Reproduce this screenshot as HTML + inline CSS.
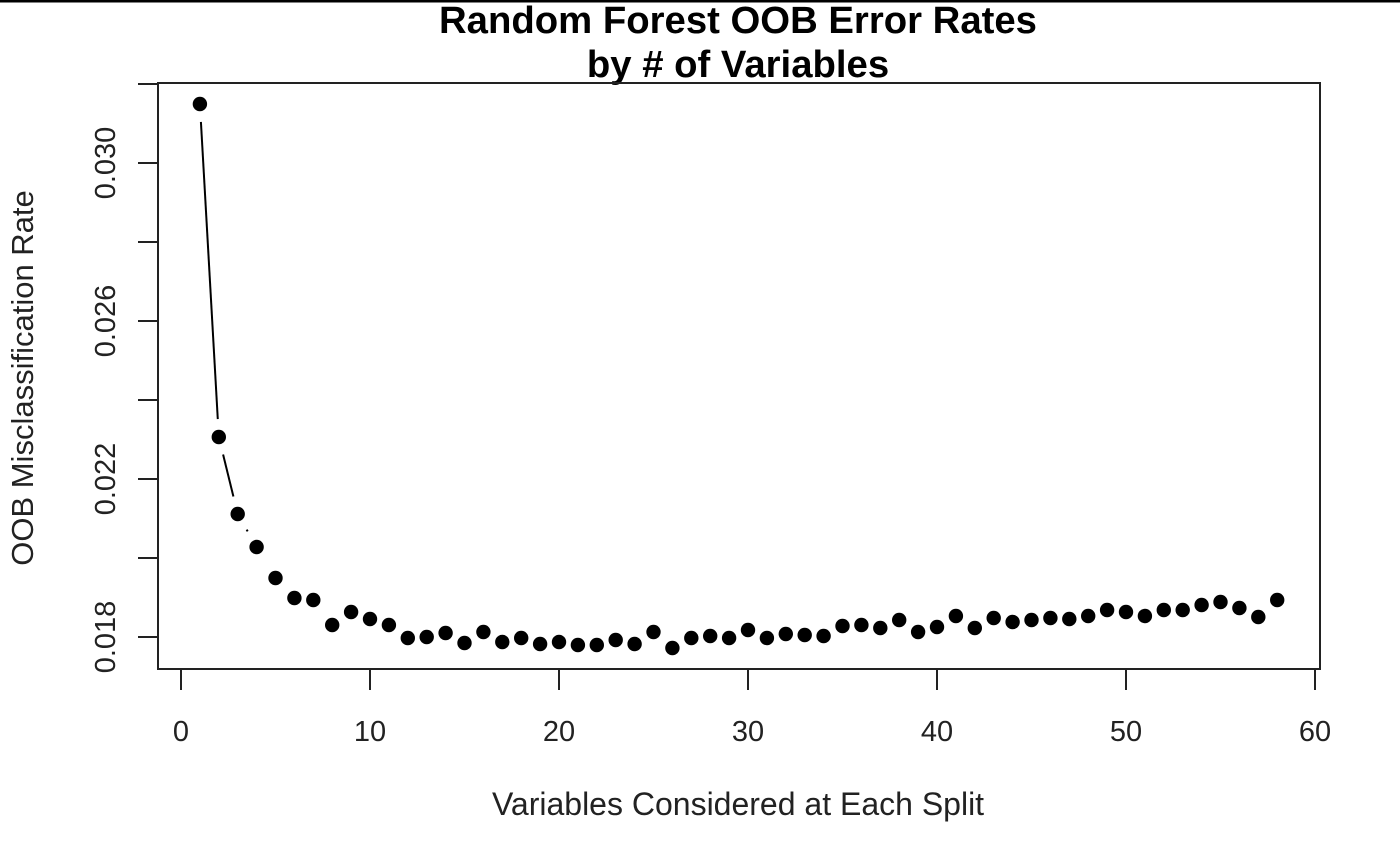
<!DOCTYPE html>
<html><head><meta charset="utf-8"><style>html,body{margin:0;padding:0;background:#fff}svg{display:block}</style></head>
<body>
<svg id="s" width="1400" height="866" xmlns="http://www.w3.org/2000/svg" font-family="Liberation Sans, Arial, sans-serif">
<rect width="1400" height="866" fill="#fff"/>
<line x1="0" y1="1" x2="1400" y2="1" stroke="#000" stroke-width="3"/>
<text x="738" y="33" font-size="38.3" font-weight="bold" text-anchor="middle">Random Forest OOB Error Rates</text>
<text x="738" y="77" font-size="38.3" font-weight="bold" text-anchor="middle">by # of Variables</text>
<rect x="158" y="83" width="1162" height="586" fill="none" stroke="#222" stroke-width="2"/>
<g stroke="#222" stroke-width="2">
<line x1="138" y1="84" x2="158" y2="84"/>
<line x1="138" y1="163" x2="158" y2="163"/><line x1="138" y1="242" x2="158" y2="242"/>
<line x1="138" y1="321" x2="158" y2="321"/><line x1="138" y1="400" x2="158" y2="400"/>
<line x1="138" y1="479" x2="158" y2="479"/><line x1="138" y1="558" x2="158" y2="558"/>
<line x1="138" y1="637" x2="158" y2="637"/>
<line x1="181" y1="669" x2="1315" y2="669"/>
<line x1="181" y1="669" x2="181" y2="690"/><line x1="370" y1="669" x2="370" y2="690"/>
<line x1="559" y1="669" x2="559" y2="690"/><line x1="748" y1="669" x2="748" y2="690"/>
<line x1="937" y1="669" x2="937" y2="690"/><line x1="1126" y1="669" x2="1126" y2="690"/>
<line x1="1315" y1="669" x2="1315" y2="690"/>
</g>
<g font-size="29" text-anchor="middle" fill="#222">
<text x="181" y="741">0</text><text x="370" y="741">10</text><text x="559" y="741">20</text>
<text x="748" y="741">30</text><text x="937" y="741">40</text><text x="1126" y="741">50</text><text x="1315" y="741">60</text>
<text transform="translate(115,637) rotate(-90)">0.018</text>
<text transform="translate(115,479) rotate(-90)">0.022</text>
<text transform="translate(115,321) rotate(-90)">0.026</text>
<text transform="translate(115,163) rotate(-90)">0.030</text>
</g>
<g font-size="32" text-anchor="middle" fill="#222">
<text x="738" y="815">Variables Considered at Each Split</text>
</g>
<g font-size="31" text-anchor="middle" fill="#222">
<text transform="translate(33,378) rotate(-90)">OOB Misclassification Rate</text>
</g>
<g id="d"></g>
</svg>
<script>
var ys=[104,437,514,547,578,598,600,625,612,619,625,638,637,633,643,632,642,638,644,642,645,645,640,644,632,648,638,636,638,630,638,634,635,636,626,625,628,620,632,627,616,628,618,622,620,618,619,616,610,612,616,610,610,605,602,608,617,600];
var g=document.getElementById('d'),h='';
function X(i){return 181+18.9*(i+1);}
for(var i=0;i<ys.length-1;i++){var x1=X(i),y1=ys[i],x2=X(i+1),y2=ys[i+1],dx=x2-x1,dy=y2-y1,L=Math.sqrt(dx*dx+dy*dy),gp=18;
if(L>2*gp+2){var ux=dx/L,uy=dy/L;h+='<line x1="'+(x1+ux*gp)+'" y1="'+(y1+uy*gp)+'" x2="'+(x2-ux*gp)+'" y2="'+(y2-uy*gp)+'" stroke="#000" stroke-width="2"/>';}}
for(var i=0;i<ys.length;i++)h+='<circle cx="'+X(i)+'" cy="'+ys[i]+'" r="7.2" fill="#000"/>';
g.innerHTML=h;
</script>
</body></html>
